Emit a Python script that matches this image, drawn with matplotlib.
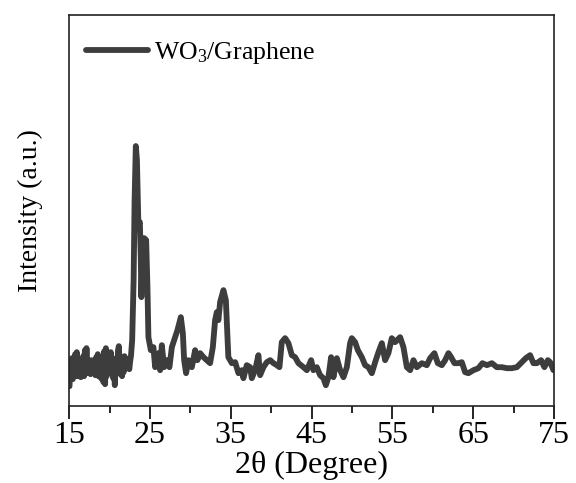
import matplotlib
matplotlib.use("Agg")
import matplotlib.pyplot as plt

plt.rcParams['font.family'] = ['Liberation Serif', 'DejaVu Serif']
plt.rcParams['mathtext.fontset'] = 'custom'
plt.rcParams['mathtext.rm'] = 'Liberation Serif'
plt.rcParams['mathtext.it'] = 'Liberation Serif:italic'

# Data (2theta in degrees, intensity in arbitrary units)
# Region 1: noisy baseline before the main reflection
tt_base = [
    15.05, 15.15, 15.25, 15.35, 15.45, 15.55, 15.65, 15.75, 15.85, 15.95,
    16.05, 16.15, 16.25, 16.35, 16.45, 16.55, 16.65, 16.75, 16.85, 16.95,
    17.05, 17.15, 17.25, 17.35, 17.45, 17.55, 17.65, 17.75, 17.85, 17.95,
    18.05, 18.15, 18.25, 18.35, 18.45, 18.55, 18.65, 18.75, 18.85, 18.95,
    19.05, 19.15, 19.25, 19.35, 19.45, 19.55, 19.65, 19.75, 19.85, 19.95,
    20.05, 20.15, 20.25, 20.35, 20.45, 20.55, 20.65, 20.75, 20.85, 20.95,
    21.05, 21.15, 21.25, 21.35, 21.45, 21.55, 21.65, 21.75, 21.85, 21.95,
    22.05, 22.15, 22.25, 22.35, 22.45, 22.55, 22.65,
]
int_base = [
    20, 45, 30, 48, 27, 44, 30, 52, 31, 54,
    30, 47, 33, 45, 29, 44, 33, 50, 30, 56,
    34, 58, 33, 46, 35, 44, 32, 46, 35, 44,
    33, 45, 31, 49, 32, 52, 30, 45, 29, 47,
    27, 50, 24, 55, 22, 58, 30, 46, 33, 50,
    36, 54, 40, 44, 28, 45, 21, 40, 48, 36,
    56, 60, 44, 32, 48, 30, 42, 34, 50, 40,
    47, 38, 44, 40, 37, 45, 50,
]

# Region 2: main reflections (23-35 deg)
tt_peaks = [
    22.80, 22.98, 23.10, 23.25, 23.39, 23.57, 23.75, 23.87, 23.94, 24.09,
    24.28, 24.53, 24.69, 24.81, 25.11, 25.43, 25.64, 26.05, 26.26, 26.47,
    26.75, 27.09, 27.41, 27.71, 28.11, 28.40, 28.82, 29.07, 29.23, 29.47,
    29.76, 30.18, 30.59, 30.87, 31.21, 31.62, 32.04, 32.44, 32.78, 33.06,
    33.27, 33.47, 33.68, 34.09, 34.39, 34.55, 34.70,
]
int_peaks = [
    66, 126, 206, 260, 246, 181, 184, 146, 109, 161,
    168, 166, 119, 69, 56, 59, 39, 53, 36, 61,
    39, 46, 39, 59, 69, 76, 89, 73, 46, 33,
    46, 39, 56, 46, 53, 49, 46, 43, 59, 86,
    94, 86, 104, 116, 106, 76, 49,
]

# Region 3: 35-55 deg
tt_mid = [
    35.13, 35.54, 35.95, 36.37, 36.56, 36.98, 37.39, 37.60, 38.01, 38.42,
    38.63, 39.04, 39.46, 39.87, 40.28, 40.70, 41.02, 41.31, 41.72, 42.13,
    42.55, 42.96, 43.37, 43.99, 44.41, 44.94, 45.22, 45.64, 46.05, 46.46,
    46.76, 47.08, 47.41, 47.70, 48.12, 48.53, 48.94, 49.36, 49.76, 49.97,
    50.38, 50.72, 51.21, 51.62, 52.03, 52.45, 52.86, 53.27, 53.69, 54.09,
    54.50, 54.92,
]
int_mid = [
    43, 44, 33, 36, 28, 41, 39, 28, 36, 51,
    31, 39, 44, 46, 43, 41, 39, 64, 68, 63,
    51, 49, 43, 39, 36, 46, 36, 39, 31, 28,
    21, 29, 49, 29, 48, 36, 29, 39, 63, 68,
    64, 56, 49, 41, 39, 33, 44, 54, 63, 46,
    53, 68,
]

# Region 4: 55-75 deg
tt_tail = [
    55.33, 55.95, 56.36, 56.78, 57.19, 57.60, 58.02, 58.64, 59.25, 59.66,
    60.19, 60.61, 61.11, 61.52, 61.93, 62.26, 62.67, 63.16, 63.58, 63.99,
    64.40, 65.02, 65.64, 66.13, 66.68, 67.30, 67.91, 68.53, 69.15, 69.77,
    70.39, 71.01, 71.50, 72.03, 72.44, 72.86, 73.39, 73.80, 74.22, 74.51,
    74.92,
]
int_tail = [
    64, 69, 59, 39, 36, 46, 39, 43, 41, 48,
    53, 43, 41, 46, 53, 49, 43, 43, 44, 34,
    33, 36, 38, 43, 41, 43, 39, 39, 38, 38,
    39, 44, 48, 51, 43, 43, 46, 39, 46, 44,
    36,
]

two_theta = tt_base + tt_peaks + tt_mid + tt_tail
intensity = int_base + int_peaks + int_mid + int_tail

x_ticks = [15, 25, 35, 45, 55, 65, 75]
x_minor = [20, 30, 40, 50, 60, 70]

fig = plt.figure(figsize=(5.76, 4.83), dpi=100)
ax = fig.add_axes([0.12, 0.159, 0.842, 0.81])

line_color = '#3d3d3d'
ax.plot(two_theta, intensity, color=line_color, linewidth=4.2,
        solid_joinstyle='round', solid_capstyle='round',
        label='WO$_\\mathregular{3}$/Graphene')

ax.set_xlim(15, 75)
ax.set_ylim(0, 391)
ax.set_xticks(x_ticks)
ax.set_xticks(x_minor, minor=True)
ax.set_yticks([])
ax.tick_params(axis='x', which='major', direction='out', length=9, width=1.2,
               labelsize=23, pad=2)
ax.tick_params(axis='x', which='minor', direction='out', length=5, width=1.2)
for s in ax.spines.values():
    s.set_linewidth(1.2)
    s.set_color('#222222')

ax.set_xlabel('2θ (Degree)', fontsize=23, labelpad=0)
ax.set_ylabel('Intensity (a.u.)', fontsize=20, labelpad=19)

leg = ax.legend(loc='upper left', bbox_to_anchor=(0.035, 0.935), frameon=False,
                fontsize=18.5, handlelength=2.4, handletextpad=0.25,
                borderaxespad=0.0, borderpad=0.0)

fig.savefig('out.png', dpi=100)
